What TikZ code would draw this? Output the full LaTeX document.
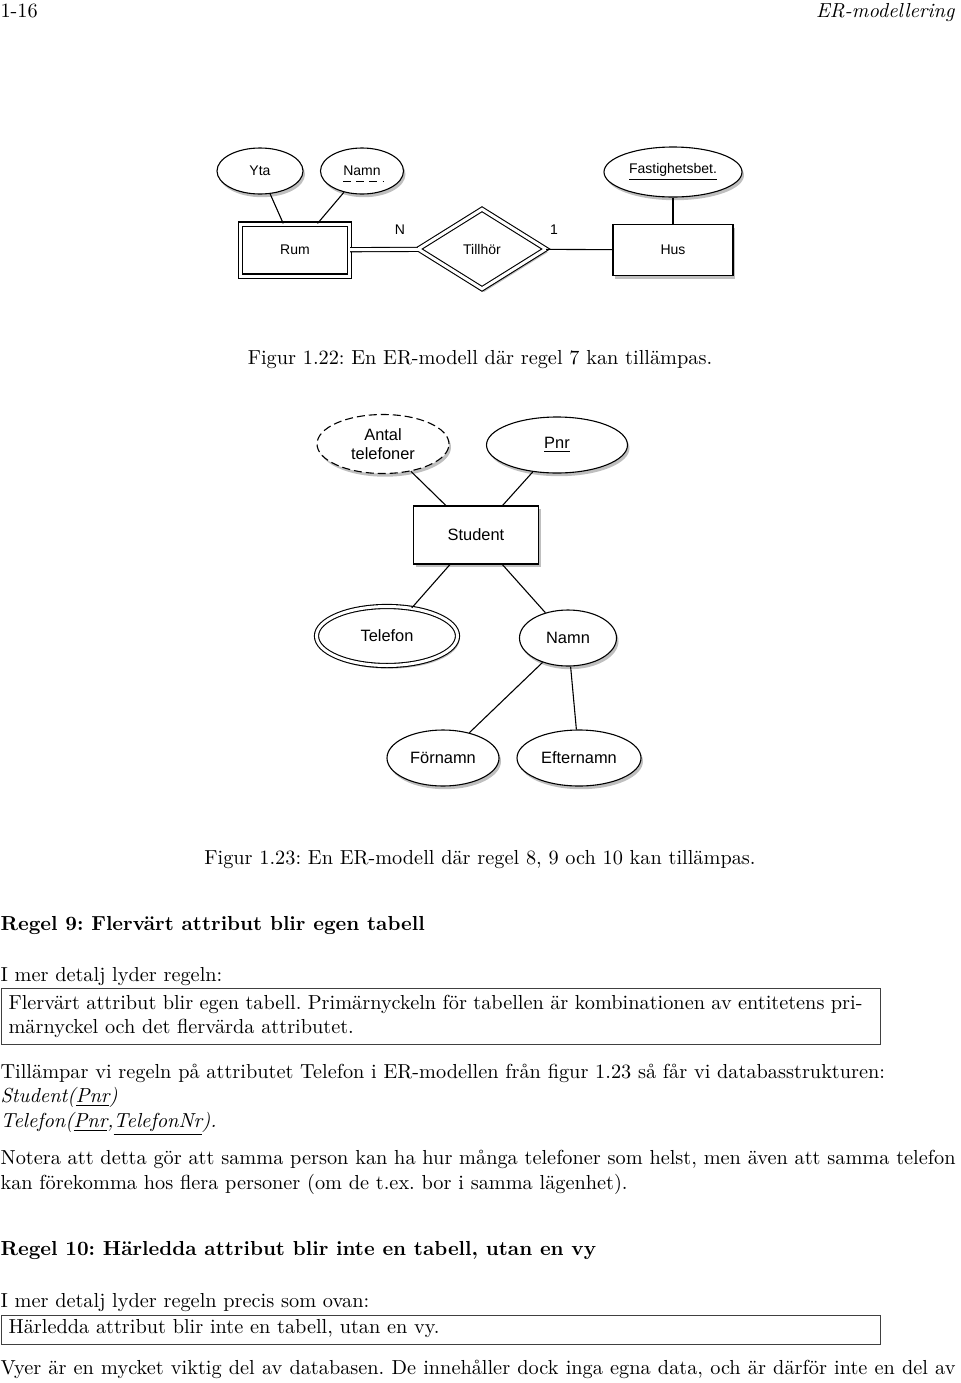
\documentclass[tikz,border=0pt]{standalone}
\usepackage{fontspec}
\newfontfamily\erfont{Liberation Sans}
\newcommand\bodyfont{\fontsize{10.15}{12.2}\selectfont\frenchspacing}
\usetikzlibrary{shapes.geometric}
\usetikzlibrary{shadows}
\usetikzlibrary{calc}

\begin{document}
\begin{tikzpicture}[x=0.5pt,y=-0.5pt,line width=0.55pt,
	er shadow/.style={drop shadow={shadow xshift=1pt,shadow yshift=-1.6pt,fill=black,opacity=0.25}},
	entity/.style={rectangle,draw,fill=white,er shadow,inner sep=0pt},
	attrib/.style={ellipse,draw,fill=white,er shadow,inner sep=0pt,align=center},
	relation/.style={diamond,draw,fill=white,er shadow,inner sep=0pt,aspect=1.6},
	dbl/.style={double,double distance=1.5pt},
	small er/.style={font=\erfont\fontsize{7}{8}\selectfont},
	big er/.style={font=\erfont\fontsize{8.2}{9.4}\selectfont},
	body/.style={anchor=base west,inner sep=0pt,font=\bodyfont},
	frame/.style={draw=black!75,line width=0.5pt}]
	\useasboundingbox (0,0) rectangle (960,1383);
	
	\node[body] (pagenum) at (0,17) {1-16};
	\node[body,anchor=base east] (running) at (955,17) {\itshape ER-modellering};
	
	% figur 1.22
	\begin{scope}[small er]
	\node[attrib,minimum width=43pt,minimum height=23pt] (yta) at (260,171) {Yta};
	\node[attrib,minimum width=41.5pt,minimum height=23pt] (rnamn) at (362,171) {Namn};
	\node[attrib,minimum width=69pt,minimum height=25pt] (fastbet) at (673,172) {\underline{Fastighetsbet.}};
	\node[entity,dbl,minimum width=54.5pt,minimum height=26pt] (rum) at (295,250) {Rum};
	\node[relation,dbl,minimum width=64pt,minimum height=40pt] (tillhor) at (482,249) {Tillhör};
	\node[entity,minimum width=60pt,minimum height=25.5pt] (hus) at (673,250) {Hus};
	\node (cardn) at (400,230) {N};
	\node (card1) at (554,230) {1};
	\end{scope}
	\draw[dash pattern=on 4pt off 2.6pt] ($(rnamn.base)+(-19,6)$) -- ($(rnamn.base)+(21,6)$);
	\draw (yta) -- (rum);
	\draw (rnamn) -- (rum);
	\draw (fastbet) -- (hus);
	\draw[dbl] (rum) -- (tillhor);
	\draw (tillhor) -- (hus);
	
	\node[body,anchor=base] (cap1) at (480,364) {Figur 1.22: En ER-modell där regel 7 kan tillämpas.};
	
	% figur 1.23
	\begin{scope}[big er]
	\node[attrib,dashed,dash pattern=on 4pt off 2pt,minimum width=66pt,minimum height=29.5pt] (antal) at (383,444) {Antal\\telefoner};
	\node[attrib,minimum width=70.5pt,minimum height=28pt] (pnr) at (557,445) {\underline{Pnr}};
	\node[entity,minimum width=62.5pt,minimum height=29pt] (student) at (476,535) {Student};
	\node[attrib,dbl,minimum width=70.5pt,minimum height=29.5pt] (telefon) at (387,636) {Telefon};
	\node[attrib,minimum width=48.5pt,minimum height=28pt] (snamn) at (568,638) {Namn};
	\node[attrib,minimum width=56pt,minimum height=28pt] (fornamn) at (443,758) {Förnamn};
	\node[attrib,minimum width=62pt,minimum height=28pt] (efternamn) at (579,758) {Efternamn};
	\end{scope}
	\draw (antal) -- (student);
	\draw (pnr) -- (student);
	\draw (student) -- (telefon);
	\draw (student) -- (snamn);
	\draw (snamn) -- (fornamn);
	\draw (snamn) -- (efternamn);
	
	\node[body,anchor=base] (cap2) at (480,864) {Figur 1.23: En ER-modell där regel 8, 9 och 10 kan tillämpas.};
	
	% regel 9
	\node[body] (rule9) at (0,930) {\bfseries Regel 9: Flervärt attribut blir egen tabell};
	\node[body] (intro9) at (0,981) {I mer detalj lyder regeln:};
	\draw[frame] (1,988) rectangle (880,1044);
	\node[body] (box9a) at (8,1009) {\hbox to 427pt{Flervärt attribut blir egen tabell. Primärnyckeln för tabellen är kombinationen av entitetens pri-}};
	\node[body] (box9b) at (8,1033) {märnyckel och det flervärda attributet.};
	\node[body] (apply) at (0,1078) {Tillämpar vi regeln på attributet Telefon i ER-modellen från figur 1.23 så får vi databasstrukturen:};
	\node[body] (tab1) at (0,1102) {\itshape Student(\underline{Pnr})};
	\node[body] (tab2) at (0,1127) {\itshape Telefon(\underline{Pnr},\underline{TelefonNr}).};
	\node[body] (note1) at (0,1164) {\hbox to 477.5pt{Notera att detta gör att samma person kan ha hur många telefoner som helst, men även att samma telefon}};
	\node[body] (note2) at (0,1189) {kan förekomma hos flera personer (om de t.ex. bor i samma lägenhet).};
	
	% regel 10
	\node[body] (rule10) at (0,1255) {\bfseries Regel 10: Härledda attribut blir inte en tabell, utan en vy};
	\node[body] (intro10) at (0,1307) {I mer detalj lyder regeln precis som ovan:};
	\draw[frame] (1,1315) rectangle (880,1344);
	\node[body] (box10) at (8,1333) {Härledda attribut blir inte en tabell, utan en vy.};
	\node[body] (views) at (0,1374) {\hbox to 477.5pt{Vyer är en mycket viktig del av databasen. De innehåller dock inga egna data, och är därför inte en del av}};
\end{tikzpicture}
\end{document}
